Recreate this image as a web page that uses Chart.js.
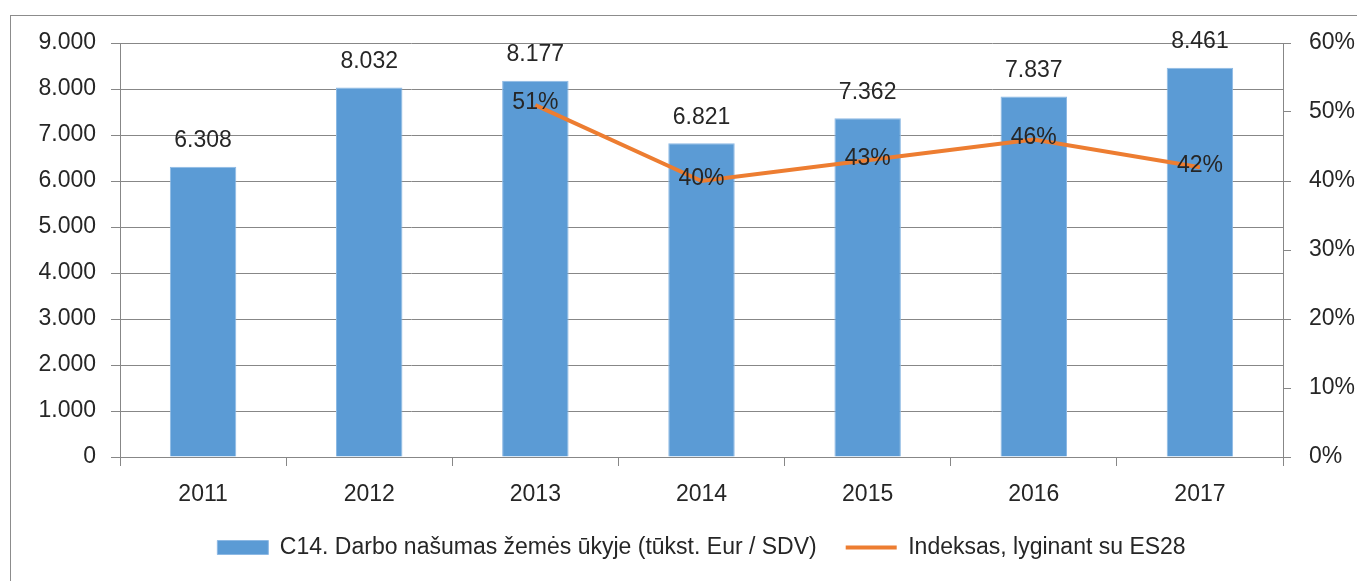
<!DOCTYPE html>
<html>
<head>
<meta charset="utf-8">
<script src="https://cdn.jsdelivr.net/npm/chart.js"></script>
<style>
  html, body { margin: 0; padding: 0; background: #fff; }
  .chart-container { position: relative; width: 1357px; height: 581px; }
</style>
</head>
<body>
<div class="chart-container"><canvas id="chart"></canvas></div>
<script>
'use strict'

const years = ['2011', '2012', '2013', '2014', '2015', '2016', '2017']
const productivity = [6308, 8032, 8177, 6821, 7362, 7837, 8461]
const indexVsEu = [null, null, 51, 40, 43, 46, 42]

const barLabel = 'C14. Darbo našumas žemės ūkyje (tūkst. Eur / SDV)'
const lineLabel = 'Indeksas, lyginant su ES28'

const FONT = "'Liberation Sans', Arial, sans-serif"
const FONT_SIZE = 23
const TEXT = '#262626'
const GRID = '#878787'

const thousands = v => {
  const s = String(Math.round(v))
  return s.replace(/\B(?=(\d{3})+(?!\d))/g, '.')
}

// outer frame, like the office chart border
const frame = {
  id: 'frame',
  beforeDraw(chart) {
    const ctx = chart.ctx
    ctx.save()
    ctx.strokeStyle = '#8c8c8c'
    ctx.lineWidth = 1
    ctx.strokeRect(10.5, 15.5, chart.width + 20, chart.height + 20)
    ctx.restore()
  }
}

// value labels over bars and on line points
const valueLabels = {
  id: 'valueLabels',
  afterDraw(chart) {
    const ctx = chart.ctx
    ctx.save()
    ctx.font = FONT_SIZE + 'px ' + FONT
    ctx.fillStyle = TEXT
    ctx.textAlign = 'center'
    ctx.textBaseline = 'middle'

    chart.getDatasetMeta(0).data.forEach((bar, i) => {
      ctx.fillText(thousands(productivity[i]), bar.x, bar.y - 26)
    })

    chart.getDatasetMeta(1).data.forEach((pt, i) => {
      if (indexVsEu[i] === null) return
      ctx.fillText(indexVsEu[i] + '%', pt.x, pt.y - 2)
    })
    ctx.restore()
  }
}

const chart = new Chart(document.getElementById('chart').getContext('2d'), {
  type: 'bar',
  data: {
    labels: years,
    datasets: [
      {
        label: barLabel,
        data: productivity,
        backgroundColor: '#5B9BD5',
        borderColor: '#8DB9E4',
        borderWidth: 1,
        barPercentage: 0.4,
        categoryPercentage: 1,
        pointStyle: 'rect',
        yAxisID: 'y',
        order: 1
      },
      {
        type: 'line',
        label: lineLabel,
        data: indexVsEu,
        borderColor: '#ED7D31',
        backgroundColor: '#ED7D31',
        borderWidth: 4,
        pointRadius: 0,
        pointHoverRadius: 0,
        pointBorderWidth: 4,
        pointStyle: 'line',
        tension: 0,
        yAxisID: 'y1',
        order: 0
      }
    ]
  },
  options: {
    responsive: true,
    maintainAspectRatio: false,
    animation: false,
    layout: { padding: { top: 43, left: 0, right: 0, bottom: 12 } },
    scales: {
      x: {
        offset: true,
        grid: {
          offset: true,
          drawOnChartArea: false,
          color: GRID,
          tickLength: 9
        },
        border: { color: GRID },
        ticks: { color: TEXT, font: { family: FONT, size: FONT_SIZE }, padding: 15 },
        afterFit: scale => { scale.height = 50 }
      },
      y: {
        position: 'left',
        min: 0,
        max: 9000,
        grid: { color: GRID, tickLength: 9 },
        border: { color: GRID },
        ticks: {
          stepSize: 1000,
          color: TEXT,
          font: { family: FONT, size: FONT_SIZE },
          padding: 15,
          callback: v => thousands(v)
        },
        afterFit: scale => { scale.width = 120 }
      },
      y1: {
        position: 'right',
        min: 0,
        max: 60,
        grid: { drawOnChartArea: false, color: GRID, tickLength: 8 },
        border: { color: GRID },
        ticks: {
          stepSize: 10,
          color: TEXT,
          font: { family: FONT, size: FONT_SIZE },
          padding: 18,
          callback: v => v + '%'
        },
        afterFit: scale => { scale.width = 74 }
      }
    },
    plugins: {
      legend: {
        position: 'bottom',
        fullSize: false,
        labels: {
          usePointStyle: true,
          pointStyleWidth: 51,
          boxHeight: 14,
          padding: 29,
          color: TEXT,
          font: { family: FONT, size: FONT_SIZE },
          sort: (a, b) => a.datasetIndex - b.datasetIndex
        }
      },
      tooltip: { enabled: false }
    }
  },
  plugins: [frame, valueLabels]
})
</script>
</body>
</html>
